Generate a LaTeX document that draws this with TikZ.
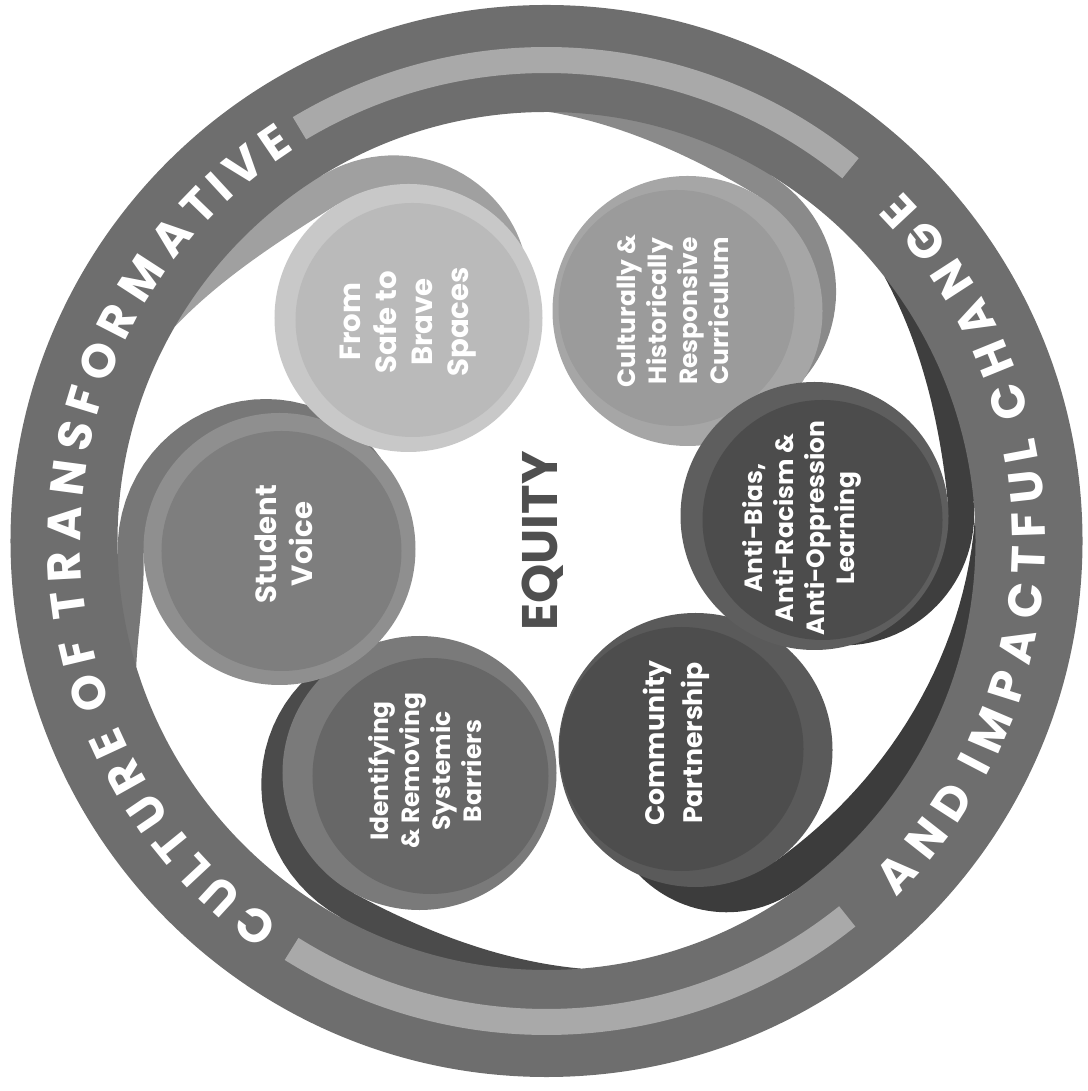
\documentclass[tikz,border=0pt]{standalone}
\usepackage{fontspec}
\setmainfont{Poppins}
\usetikzlibrary{decorations.text}

\definecolor{ringgray}{HTML}{6E6E6E}
\definecolor{stripegray}{HTML}{A9A9A9}
\definecolor{equitygray}{HTML}{4F4F4F}
\definecolor{culttail}{HTML}{8A8A8A}
\definecolor{cultrim}{HTML}{A6A6A6}
\definecolor{cultin}{HTML}{9B9B9B}
\definecolor{safetail}{HTML}{A0A0A0}
\definecolor{saferim}{HTML}{C8C8C8}
\definecolor{safein}{HTML}{BABABA}
\definecolor{voicetail}{HTML}{777777}
\definecolor{voicerim}{HTML}{8F8F8F}
\definecolor{voicein}{HTML}{7E7E7E}
\definecolor{barrtail}{HTML}{4B4B4B}
\definecolor{barrrim}{HTML}{7A7A7A}
\definecolor{barrin}{HTML}{676767}
\definecolor{commtail}{HTML}{3C3C3C}
\definecolor{commrim}{HTML}{5A5A5A}
\definecolor{commin}{HTML}{4D4D4D}
\definecolor{biastail}{HTML}{3E3E3E}
\definecolor{biasrim}{HTML}{5E5E5E}
\definecolor{biasin}{HTML}{4C4C4C}

\newcommand\ringfont{\fontsize{13.4pt}{16pt}\selectfont\bfseries}

\tikzset{
  bubbletext/.style={text=white, align=center, rotate=90},
  bubblelarge/.style={bubbletext, font=\fontsize{8.3pt}{10.2pt}\selectfont\bfseries},
  bubblemid/.style={bubbletext, font=\fontsize{7.6pt}{10.8pt}\selectfont\bfseries},
  bubblesmall/.style={bubbletext, font=\fontsize{7.1pt}{8.8pt}\selectfont\bfseries},
  ringtext/.style={decorate, decoration={text effects along path, text={#1},
    text effects/.cd, text along path, fit text to path,
    characters={text=white, inner sep=0pt, font=\ringfont}}}
}

% tail of a bubble: centre, rim radius, thin-end angle, wrap angle, colour
\newcommand\swirltail[6]{%
  \pgfmathsetmacro\tphi{atan2(#2,#1)}
  \pgfmathsetmacro\td{veclen(#1,#2)}
  \pgfmathsetmacro\tw{429-\td-#3}
  \fill[#6] (#4:431) arc[start angle=#4, end angle=\tphi, radius=431]
    -- plot[domain=0:1, samples=30]
       ({#1+(#3+\tw*cos(90*\x))*cos((\tphi)-(#5)*\x)},{#2+(#3+\tw*cos(90*\x))*sin((\tphi)-(#5)*\x)})
    -- (#1,#2) -- (\tphi:{429-\tw})
    -- plot[domain=0:1, samples=30] ({(\tphi)+((#4)-(\tphi))*\x}:{429-\tw*cos(90*\x)})
    -- cycle;
}

\begin{document}
\begin{tikzpicture}[x=0.1mm, y=0.1mm]
\useasboundingbox (-546.5,-550) rectangle (540.5,541);

\swirltail{141}{230}{135}{89.5}{88}{culttail}
\swirltail{-138}{223}{134}{150}{90}{safetail}
\swirltail{-267}{-8}{136}{-163}{140}{voicetail}
\swirltail{-127}{-232}{137}{-85.4}{135}{barrtail}
\swirltail{149}{-209}{137}{3}{60}{commtail}
\swirltail{268}{25}{134}{38}{80}{biastail}

\fill[ringgray, even odd rule] (0,0) circle[radius=536] (0,0) circle[radius=429];
\fill[stripegray] (50.8:494) arc[start angle=50.8, end angle=120.9, radius=494]
  -- (120.9:468) arc[start angle=120.9, end angle=50.8, radius=468] -- cycle;
\fill[stripegray] (238:494) arc[start angle=238, end angle=308.7, radius=494]
  -- (308.7:468) arc[start angle=308.7, end angle=238, radius=468] -- cycle;

\path[ringtext={CULTURE OF TRANSFORMATIVE}] (235:466) arc[start angle=235, end angle=122.7, radius=466];
\path[ringtext={AND IMPACTFUL CHANGE}] (-45.5:499) arc[start angle=-45.5, end angle=44.5, radius=499];

\fill[commrim] (149,-209) circle[radius=137];
\fill[commin] (135,-208) circle[radius=122];
\node[bubblemid] (community) at (129.5,-202) {Community\\Partnership};

\fill[barrrim] (-127,-232) circle[radius=137];
\fill[barrin] (-116,-235) circle[radius=118];
\node[bubblesmall] (barriers) at (-121.5,-230) {Identifying\\\& Removing\\Systemic\\Barriers};

\fill[voicerim] (-267,-8) circle[radius=136];
\fill[voicein] (-265,-10) circle[radius=120];
\node[bubblelarge] (voice) at (-262.5,-3) {Student\\Voice};

\fill[saferim] (-138,223) circle[radius=134];
\fill[safein] (-134,221) circle[radius=117];
\node[bubblelarge] (safe) at (-138.5,219) {From\\Safe to\\Brave\\Spaces};

\fill[cultrim] (141,230) circle[radius=135];
\fill[cultin] (130,233) circle[radius=118];
\node[bubblesmall] (curriculum) at (126.5,230) {Culturally \&\\Historically\\Responsive\\Curriculum};

\fill[biasrim] (268,25) circle[radius=134];
\fill[biasin] (276,21) circle[radius=120];
\node[bubblesmall] (antibias) at (255.5,13) {Anti-Bias,\\Anti-Racism \&\\Anti-Oppression\\Learning};

\node[text=equitygray, rotate=90, font=\fontsize{14.2pt}{17pt}\selectfont\bfseries] (equity) at (-3.5,0) {EQUITY};
\end{tikzpicture}
\end{document}
